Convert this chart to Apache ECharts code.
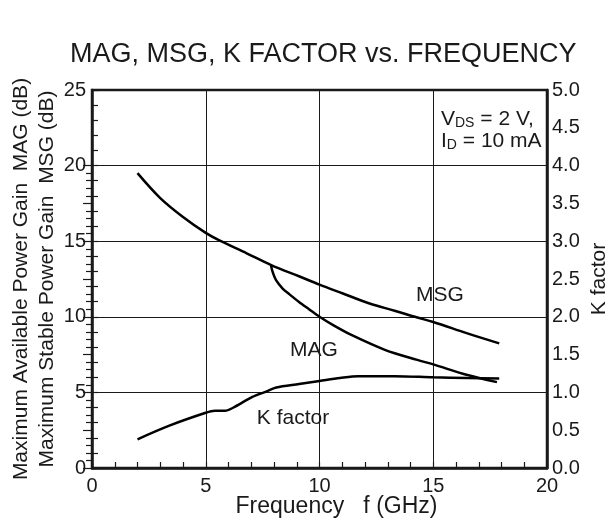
<!DOCTYPE html>
<html><head><meta charset="utf-8">
<script src="https://cdn.jsdelivr.net/npm/echarts@6/dist/echarts.min.js"></script>
<style>html,body{margin:0;padding:0;background:#fff}#c{width:610px;height:531px}</style>
</head><body><div id="c"></div>
<script>
// ---- data ----
var msgFreq = [2, 3, 4, 5, 5.6, 6.8, 7.9, 9.1, 10, 11, 12.2, 13.3, 14.3, 15, 16.5, 17.9];
var msgGain = [19.5, 17.85, 16.6, 15.55, 15.05, 14.2, 13.4, 12.68, 12.13, 11.56, 10.88, 10.4, 9.95, 9.66, 8.9, 8.24];
var magFreq = [7.87, 7.94, 8.09, 8.38, 8.67, 9.1, 9.54, 10, 10.6, 11.4, 12.9, 14.3, 15.0, 16.5, 17.8];
var magGain = [13.4, 12.97, 12.42, 11.87, 11.5, 10.98, 10.5, 10.0, 9.45, 8.8, 7.8, 7.15, 6.85, 6.15, 5.68];
var kFreq = [2, 3.4, 5, 5.4, 5.85, 6.2, 7.05, 7.65, 8.1, 9.1, 10, 10.9, 11.7, 13.3, 15, 16.5, 17.9];
var kVal = [0.38, 0.56, 0.73, 0.757, 0.757, 0.797, 0.94, 1.01, 1.065, 1.11, 1.15, 1.19, 1.215, 1.215, 1.2, 1.19, 1.185];
var xTicks = [0, 5, 10, 15, 20];
var gainTicks = [0, 5, 10, 15, 20, 25];
var kTicks = [0, 0.5, 1, 1.5, 2, 2.5, 3, 3.5, 4, 4.5, 5];

function pairs(xs, ys) { return xs.map(function (x, i) { return [x, ys[i]]; }); }

var FONT = '"Liberation Sans", Arial, Helvetica, sans-serif';
var INK = '#1a1a1a';
var L = 92, R = 63, T = 90, B = 63;
var H = 531 - T - B;
var kTop = T + H * (1 - 4 / 5);

var chart = echarts.init(document.getElementById('c'), null, { renderer: 'canvas' });
chart.setOption({
  animation: false,
  backgroundColor: '#fff',
  title: {
    text: 'MAG, MSG, K FACTOR vs. FREQUENCY',
    left: 65, top: 36,
    textStyle: { fontFamily: FONT, fontSize: 27, fontWeight: 'normal', color: INK }
  },
  grid: [
    { left: L, right: R, top: T, bottom: B, show: true, borderColor: INK, borderWidth: 2.5,
      backgroundColor: 'transparent', containLabel: false, outerBoundsMode: 'none' },
    { left: L, right: R, top: kTop, bottom: B, show: false, containLabel: false, outerBoundsMode: 'none' }
  ],
  xAxis: [
    {
      gridIndex: 0, type: 'value', min: 0, max: 20, interval: 5,
      name: 'Frequency   f (GHz)', nameLocation: 'middle', nameGap: 27, nameMoveOverlap: false,
      nameTextStyle: { fontFamily: FONT, fontSize: 23, color: INK, padding: [0, 0, 0, 34] },
      axisLine: { show: true, lineStyle: { color: INK, width: 2.5 } },
      axisTick: { show: true, inside: true, length: 6, lineStyle: { color: INK, width: 1.2 } },
      minorTick: { show: true, splitNumber: 5, length: 6, lineStyle: { color: INK, width: 1.2 } },
      axisLabel: { fontFamily: FONT, fontSize: 20, color: INK, margin: 8,
        formatter: function (v) { return xTicks.indexOf(v) >= 0 ? String(v) : ''; } },
      splitLine: { show: true, lineStyle: { color: INK, width: 1 } }
    },
    { gridIndex: 1, type: 'value', min: 0, max: 20, show: false }
  ],
  yAxis: [
    {
      gridIndex: 0, type: 'value', min: 0, max: 25, interval: 5, position: 'left',
      name: 'Maximum Available Power Gain  MAG (dB)\nMaximum Stable Power Gain  MSG (dB)',
      nameLocation: 'middle', nameGap: 32, nameMoveOverlap: false,
      nameTextStyle: { fontFamily: FONT, fontSize: 21, color: INK, lineHeight: 26 },
      axisLine: { show: true, lineStyle: { color: INK, width: 2.5 } },
      axisTick: { show: true, inside: true, length: 6, lineStyle: { color: INK, width: 1.2 } },
      minorTick: { show: true, splitNumber: 5, length: 6, lineStyle: { color: INK, width: 1.2 } },
      axisLabel: { fontFamily: FONT, fontSize: 20, color: INK, margin: 6,
        formatter: function (v) { return gainTicks.indexOf(v) >= 0 ? String(v) : ''; } },
      splitLine: { show: true, lineStyle: { color: INK, width: 1 } }
    },
    {
      gridIndex: 0, type: 'value', min: 0, max: 5, interval: 0.5, position: 'right',
      name: 'K factor', nameLocation: 'middle', nameGap: 42, nameMoveOverlap: false,
      nameTextStyle: { fontFamily: FONT, fontSize: 21, color: INK },
      axisLine: { show: true, lineStyle: { color: INK, width: 2.5 } },
      axisTick: { show: false },
      axisLabel: { fontFamily: FONT, fontSize: 20, color: INK, margin: 5,
        formatter: function (v) { return kTicks.indexOf(v) >= 0 ? v.toFixed(1) : ''; } },
      splitLine: { show: false }
    },
    {
      gridIndex: 1, type: 'value', min: 0, max: 4, interval: 0.5, position: 'right',
      axisLine: { show: false },
      axisTick: { show: true, inside: true, length: 9, lineStyle: { color: INK, width: 1.2 } },
      minorTick: { show: true, splitNumber: 5, length: 6, lineStyle: { color: INK, width: 1.2 } },
      axisLabel: { show: false },
      splitLine: { show: false }
    }
  ],
  series: [
    { name: 'MSG', type: 'line', xAxisIndex: 0, yAxisIndex: 0, data: pairs(msgFreq, msgGain),
      smooth: 0.35, symbol: 'none', lineStyle: { color: '#000', width: 2.5 } },
    { name: 'MAG', type: 'line', xAxisIndex: 0, yAxisIndex: 0, data: pairs(magFreq, magGain),
      smooth: 0.3, symbol: 'none', lineStyle: { color: '#000', width: 2.5 } },
    { name: 'K factor', type: 'line', xAxisIndex: 0, yAxisIndex: 1, data: pairs(kFreq, kVal),
      smooth: 0.3, symbol: 'none', lineStyle: { color: '#000', width: 2.5 } }
  ],
  graphic: [
    { type: 'text', left: 441, top: 109, style: {
        text: '{v|V}{s|DS}{v| = 2 V,}\n{v|I}{s|D}{v| = 10 mA}',
        rich: {
          v: { fontFamily: FONT, fontSize: 21, fill: INK, lineHeight: 22 },
          s: { fontFamily: FONT, fontSize: 14, fill: INK, lineHeight: 16, verticalAlign: 'bottom' }
        } } },
    { type: 'text', x: 440, y: 295, style: { text: 'MSG', font: '21px ' + FONT, fill: INK, align: 'center', verticalAlign: 'middle' } },
    { type: 'text', x: 314, y: 350, style: { text: 'MAG', font: '21px ' + FONT, fill: INK, align: 'center', verticalAlign: 'middle' } },
    { type: 'text', x: 293, y: 418, style: { text: 'K factor', font: '21px ' + FONT, fill: INK, align: 'center', verticalAlign: 'middle' } }
  ]
});
</script>
</body></html>
